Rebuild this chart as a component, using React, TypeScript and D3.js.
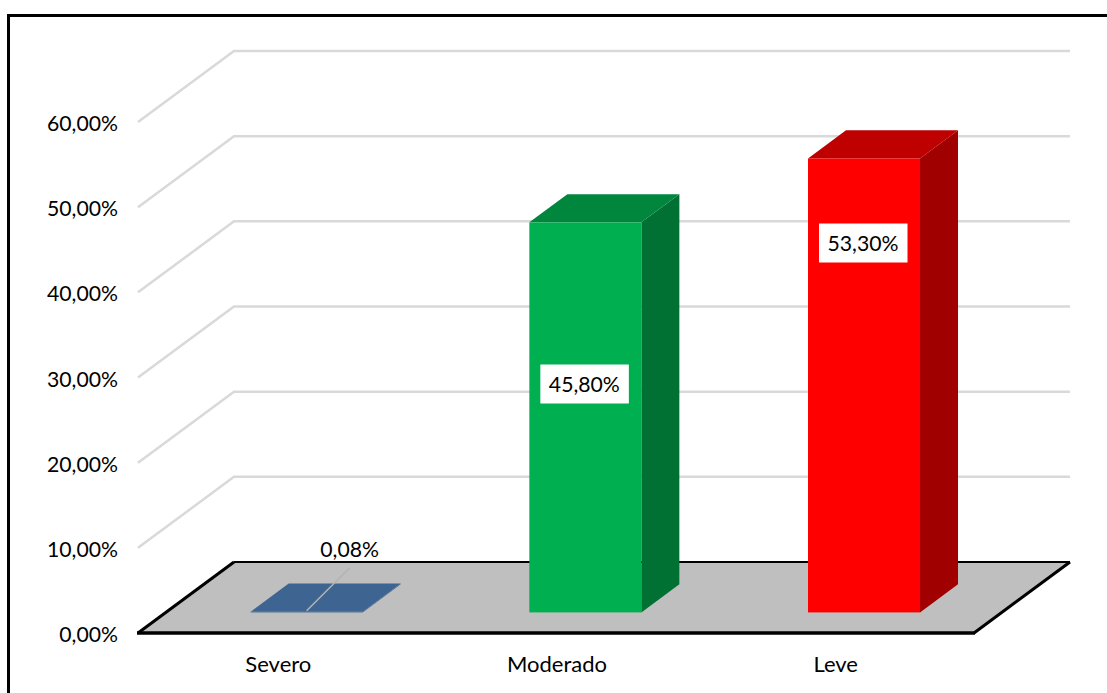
import React from "react";
import * as d3 from "d3";

const categories = ["Severo", "Moderado", "Leve"];
const values = [0.08, 45.8, 53.3];
const valueLabels = ["0,08%", "45,80%", "53,30%"];
const ticks = [0, 10, 20, 30, 40, 50, 60];
const frontColors = ["#3E6491", "#00B050", "#FF0000"];
const topColors = ["#3E6491", "#00873D", "#BE0000"];
const sideColors = ["#3E6491", "#007033", "#A00000"];

const FONT = "Lato, Carlito, sans-serif";
const W = 1107, H = 693;
const x0 = 138, x1 = 974, yFloor = 633, yTop = 122;
const depthX = 96, depthY = -71;
const barDepthStart = 0.29, barDepthLen = 0.396;
const barShift = 1.5;

const xScale = d3.scaleBand<string>().domain(categories).range([x0, x1]).paddingInner(0).paddingOuter(0);
const yScale = d3.scaleLinear().domain([0, 60]).range([yFloor, yTop]);
const barW = 112;

const poly = (pts: number[][]) => (d3.line()(pts as [number, number][]) as string) + "Z";

export default function App() {
  const tickFmt = (t: number) => t.toFixed(2).replace(".", ",") + "%";
  const backX0 = x0 + depthX, backX1 = x1 + depthX;
  return (
    <svg width={W} height={H} viewBox={`0 0 ${W} ${H}`} style={{ position: "absolute", left: 0, top: 0, display: "block" }} fontFamily={FONT}>
      <rect width={W} height={H} fill="#fff" />
      <rect x={8.5} y={15.5} width={W + 20} height={H + 20} fill="none" stroke="#000" strokeWidth={3} />

      {ticks.filter((t) => t > 0).map((t) => {
        const y = yScale(t);
        return (
          <path key={t} fill="none" stroke="#D9D9D9" strokeWidth={2.5}
            d={d3.line()([[x0, y], [backX0, y + depthY], [backX1, y + depthY]]) as string} />
        );
      })}

      <path d={poly([[x0, yFloor], [backX0, yFloor + depthY], [backX1, yFloor + depthY], [x1, yFloor]])} fill="#BFBFBF" />
      <path d={d3.line()([[backX0, yFloor + depthY], [backX1, yFloor + depthY]]) as string} stroke="#000" strokeWidth={2} fill="none" />
      <path d={d3.line()([[x0, yFloor], [backX0, yFloor + depthY]]) as string} stroke="#000" strokeWidth={3} fill="none" />
      <path d={d3.line()([[x1, yFloor], [backX1, yFloor + depthY]]) as string} stroke="#000" strokeWidth={3} fill="none" />
      <path d={d3.line()([[x0 - 1, yFloor], [x1 + 1, yFloor]]) as string} stroke="#000" strokeWidth={3.5} fill="none" />

      {categories.map((c, i) => {
        const cx = xScale(c)! + xScale.bandwidth() / 2;
        const bx = cx + depthX * barDepthStart - barW / 2 + barShift;
        const by = yFloor + depthY * barDepthStart;
        const h = yFloor - yScale(values[i]);
        const dx = depthX * barDepthLen, dy = depthY * barDepthLen;
        const top = by - h;
        return (
          <g key={c}>
            <path d={poly([[bx + barW, by], [bx + barW + dx, by + dy], [bx + barW + dx, top + dy], [bx + barW, top]])} fill={sideColors[i]} />
            <path d={poly([[bx, top], [bx + dx, top + dy], [bx + barW + dx, top + dy], [bx + barW, top]])} fill={topColors[i]} />
            <rect x={bx} y={top} width={barW} height={h} fill={frontColors[i]} />
          </g>
        );
      })}

      {ticks.map((t) => (
        <text key={t} x={118} y={yScale(t) + 1.5} dy="0.36em" textAnchor="end" fontSize={21.2} fill="#000">{tickFmt(t)}</text>
      ))}

      {categories.map((c) => (
        <text key={c} x={xScale(c)! + xScale.bandwidth() / 2 + 1} y={672} textAnchor="middle" fontSize={22} fill="#000">{c}</text>
      ))}

      {categories.map((c, i) => {
        const cx = xScale(c)! + xScale.bandwidth() / 2;
        const barCx = cx + depthX * barDepthStart + barShift;
        const by = yFloor + depthY * barDepthStart;
        const h = yFloor - yScale(values[i]);
        if (i === 0) {
          return (
            <g key={c}>
              <line x1={barCx} y1={by - h - 1} x2={barCx + 43} y2={by - h - 44} stroke="#B4B4B4" strokeWidth={1.5} />
              <text x={barCx + 43} y={557} textAnchor="middle" fontSize={21.2} fill="#000">{valueLabels[i]}</text>
            </g>
          );
        }
        const ly = i === 1 ? 384 : 243;
        const lx = barCx - 1;
        return (
          <g key={c}>
            <rect x={lx - 44} y={ly - 19.5} width={88.5} height={39} fill="#fff" />
            <text x={lx} y={ly} dy="0.36em" textAnchor="middle" fontSize={21.2} fill="#000">{valueLabels[i]}</text>
          </g>
        );
      })}
    </svg>
  );
}
